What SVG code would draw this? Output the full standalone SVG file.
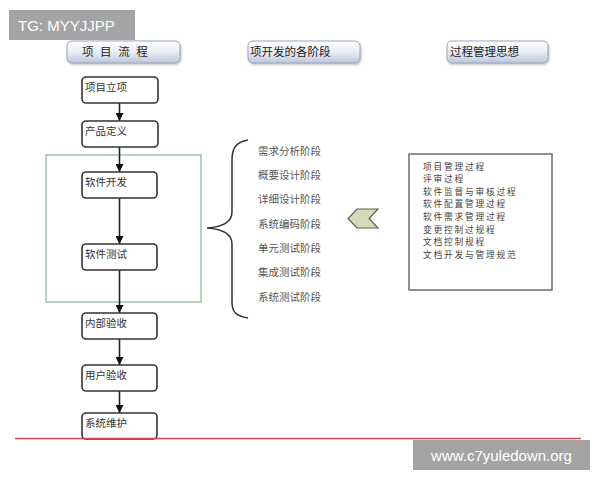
<svg xmlns="http://www.w3.org/2000/svg" width="600" height="480" viewBox="0 0 600 480">
<style>
  text { font-family: "Noto Sans CJK SC", "Liberation Sans", sans-serif; }
  .hdr { fill: url(#hg); stroke: #9ba6bb; stroke-width: 1; filter: url(#sh); }
  .hdrt { font-size: 11.5px; fill: #222; }
  .node rect { fill: #fff; stroke: #333; stroke-width: 1.6; }
  .node text { font-size: 10.5px; fill: #333; }
  .conn line { stroke: #222; stroke-width: 1.6; }
  .stage { font-size: 10.5px; fill: #555; }
  .proc { font-size: 8.7px; letter-spacing: 1.8px; fill: #444; }
  .wm { fill: #a4a4a4; }
  .wmt { font-family: "Liberation Sans", "DejaVu Sans", sans-serif; font-size: 15px; fill: #fff; }
</style>
<defs>
  <linearGradient id="hg" x1="0" y1="0" x2="0" y2="1">
    <stop offset="0" stop-color="#ffffff"/>
    <stop offset="0.5" stop-color="#e9edf5"/>
    <stop offset="1" stop-color="#bcc6da"/>
  </linearGradient>
  <filter id="sh" x="-10%" y="-20%" width="120%" height="160%">
    <feDropShadow dx="1" dy="1.5" stdDeviation="1" flood-color="#888" flood-opacity="0.5"/>
  </filter>
  <marker id="ah" viewBox="0 0 10 10" refX="10" refY="5" markerWidth="5" markerHeight="5" orient="auto" markerUnits="strokeWidth">
    <path d="M0,0 L10,5 L0,10 z" fill="#111"/>
  </marker>
</defs>
<rect width="600" height="480" fill="#fff"/>

<!-- headers -->
<g id="header1"><rect class="hdr" x="67" y="41" width="113" height="22" rx="5"/><text class="hdrt" x="82" y="56" letter-spacing="2">项 目 流 程</text></g>
<g id="header2"><rect class="hdr" x="248" y="41" width="112" height="22" rx="5"/><text class="hdrt" x="250" y="56">项开发的各阶段</text></g>
<g id="header3"><rect class="hdr" x="447" y="41" width="101" height="22" rx="5"/><text class="hdrt" x="450" y="56">过程管理思想</text></g>

<!-- green group -->
<g id="dev-group"><rect x="46" y="155" width="155" height="147" fill="none" stroke="#86b592" stroke-width="1.2"/></g>

<!-- connectors -->
<g id="connectors" class="conn">
  <line x1="119.5" y1="103" x2="119.5" y2="121" marker-end="url(#ah)"/>
  <line x1="119.5" y1="147" x2="119.5" y2="172" marker-end="url(#ah)"/>
  <line x1="119.5" y1="198" x2="119.5" y2="244" marker-end="url(#ah)"/>
  <line x1="119.5" y1="270" x2="119.5" y2="313" marker-end="url(#ah)"/>
  <line x1="119.5" y1="339" x2="119.5" y2="365" marker-end="url(#ah)"/>
  <line x1="119.5" y1="387" x2="119.5" y2="413" marker-end="url(#ah)"/>
</g>

<!-- nodes -->
<g id="n1" class="node"><rect x="82" y="77" width="76" height="26" rx="4"/><text x="85" y="91">项目立项</text></g>
<g id="n2" class="node"><rect x="82" y="121" width="76" height="26" rx="4"/><text x="85" y="135">产品定义</text></g>
<g id="n3" class="node"><rect x="82" y="172" width="75" height="26" rx="4"/><text x="85" y="186">软件开发</text></g>
<g id="n4" class="node"><rect x="82" y="244" width="75" height="26" rx="4"/><text x="85" y="258">软件测试</text></g>
<g id="n5" class="node"><rect x="82" y="313" width="75" height="26" rx="4"/><text x="85" y="327">内部验收</text></g>
<g id="n6" class="node"><rect x="82" y="365" width="75" height="26" rx="4"/><text x="85" y="379">用户验收</text></g>
<g id="n7" class="node"><rect x="82" y="413" width="75" height="26" rx="4"/><text x="85" y="427">系统维护</text></g>

<!-- brace -->
<g id="brace"><path d="M248,140 C236,142 232,148 232,160 L232,212 C232,222 222,227 207,228 C222,229 232,234 232,244 L232,302 C232,312 236,316 248,318" fill="none" stroke="#333" stroke-width="1.5"/></g>

<!-- stages -->
<g id="stages">
  <text class="stage" x="258" y="155">需求分析阶段</text>
  <text class="stage" x="258" y="179">概要设计阶段</text>
  <text class="stage" x="258" y="203">详细设计阶段</text>
  <text class="stage" x="258" y="228">系统编码阶段</text>
  <text class="stage" x="258" y="252">单元测试阶段</text>
  <text class="stage" x="258" y="276">集成测试阶段</text>
  <text class="stage" x="258" y="301">系统测试阶段</text>
</g>

<!-- chevron -->
<g id="chevron"><polygon points="378,209 357,209 348,218.5 357,228 378,228 369,218.5" fill="#d5dab8" stroke="#5e6248" stroke-width="1.2"/></g>

<!-- process box -->
<g id="process">
  <rect x="409" y="154" width="143" height="136" fill="#fff" stroke="#555" stroke-width="1.3"/>
  <text class="proc" x="423" y="169.5">项目管理过程</text>
  <text class="proc" x="423" y="182.1">评审过程</text>
  <text class="proc" x="423" y="194.7">软件监督与审核过程</text>
  <text class="proc" x="423" y="207.3">软件配置管理过程</text>
  <text class="proc" x="423" y="219.9">软件需求管理过程</text>
  <text class="proc" x="423" y="232.5">变更控制过规程</text>
  <text class="proc" x="423" y="245.1">文档控制规程</text>
  <text class="proc" x="423" y="257.7">文档开发与管理规范</text>
</g>

<!-- red baseline -->
<line x1="15" y1="438.5" x2="581" y2="438.5" stroke="#d24a4a" stroke-width="1.5"/>

<!-- watermarks -->
<g id="wm1"><rect class="wm" x="9" y="10" width="126" height="30"/><text class="wmt" x="18" y="31">TG: MYYJJPP</text></g>
<g id="wm2"><rect class="wm" x="413" y="440" width="177" height="30"/><text class="wmt" x="501.5" y="461" text-anchor="middle">www.c7yuledown.org</text></g>
</svg>
